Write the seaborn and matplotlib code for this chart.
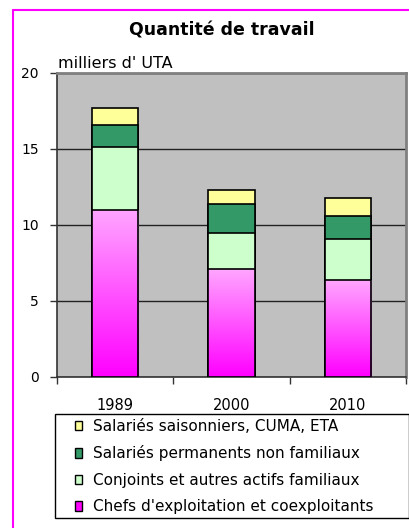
import seaborn as sns
import pandas as pd
import numpy as np
import matplotlib.pyplot as plt
from matplotlib.lines import Line2D
from matplotlib.patches import Patch, Rectangle
from matplotlib.colors import LinearSegmentedColormap

# Data (milliers d'UTA)
years = ['1989', '2000', '2010']
chefs = [11.0, 7.1, 6.35]
conjoints = [4.1, 2.35, 2.7]
permanents = [1.5, 1.9, 1.55]
saisonniers = [1.1, 0.95, 1.15]

labels = ["Salariés saisonniers, CUMA, ETA",
          "Salariés permanents non familiaux",
          "Conjoints et autres actifs familiaux",
          "Chefs d'exploitation et coexploitants"]
colors = ['#FFFF99', '#339966', '#CCFFCC', '#FF66FF']

df = pd.DataFrame({'year': years, 'chefs': chefs, 'conjoints': conjoints,
                   'permanents': permanents, 'saisonniers': saisonniers})
df['c1'] = df['chefs']
df['c2'] = df['c1'] + df['conjoints']
df['c3'] = df['c2'] + df['permanents']
df['c4'] = df['c3'] + df['saisonniers']

sns.set_style("white")
plt.rcParams['font.family'] = ['DejaVu Sans']
plt.rcParams['text.color'] = 'black'
plt.rcParams['xtick.color'] = 'black'
plt.rcParams['ytick.color'] = 'black'

fig = plt.figure(figsize=(4.1, 5.28), dpi=100)
ax = fig.add_axes([57 / 410, 151 / 528, 349 / 410, 304 / 528])
ax.set_facecolor('#C0C0C0')

# stacked bars, drawn from the tallest cumulative down
for col, c in zip(['c4', 'c3', 'c2', 'c1'], colors):
    sns.barplot(data=df, x='year', y=col, color=c, width=0.4,
                edgecolor='black', linewidth=1.2, saturation=1, ax=ax, zorder=3)

# gradient on the bottom (chefs) bars
cmap = LinearSegmentedColormap.from_list('pink', ['#FF00FF', '#FFA6FF'])
grad = np.linspace(0, 1, 256).reshape(-1, 1)
for p in ax.patches[-3:]:
    x0, y0 = p.get_x(), p.get_y()
    w, h = p.get_width(), p.get_height()
    im = ax.imshow(grad, cmap=cmap, origin='lower', aspect='auto',
                   extent=[x0, x0 + w, y0, y0 + h], zorder=3.5)
    im.set_clip_path(p)
    p.set_facecolor('none')
    p.set_zorder(4)

ax.set_xlim(-0.5, 2.5)
ax.set_ylim(0, 20)
ax.set_yticks([0, 5, 10, 15, 20])
ax.set_xlabel('')
ax.set_ylabel('')
ax.yaxis.grid(True, color='#222222', linewidth=1)
ax.set_axisbelow(True)
ax.tick_params(axis='y', direction='out', length=5, width=1, color='#333333',
               labelsize=10, pad=8, left=True)
ax.tick_params(axis='x', which='major', length=0, labelsize=10.5, pad=15)
ax.set_xticks([-0.5, 0.5, 1.5, 2.5], minor=True)
ax.tick_params(axis='x', which='minor', direction='out', length=5, width=1,
               color='#333333', bottom=True)
for s in ['left', 'bottom']:
    ax.spines[s].set_color('#333333')
    ax.spines[s].set_linewidth(1.2)
for s in ['top', 'right']:
    ax.spines[s].set_color('#808080')
    ax.spines[s].set_linewidth(2)

fig.text(222 / 410, 1 - 30 / 528, 'Quantité de travail', ha='center',
         va='center', fontsize=12.5, fontweight='bold')
fig.text(58 / 410, 1 - 64 / 528, "milliers d' UTA", ha='left', va='center',
         fontsize=11.5)

# legend box
fig.add_artist(Rectangle((55 / 410, 10 / 528), 354 / 410, 104 / 528,
                         transform=fig.transFigure, facecolor='white',
                         edgecolor='black', linewidth=1, zorder=1))
handles = [Patch(facecolor=c, edgecolor='black', linewidth=1) for c in colors]
handles[3] = Patch(facecolor='#FF00FF', edgecolor='black', linewidth=1)
leg = fig.legend(handles, labels, loc='upper left',
                 bbox_to_anchor=(75 / 410, 1 - 419 / 528),
                 fontsize=11, frameon=False, handlelength=0.45,
                 handleheight=0.55, handletextpad=0.7, labelspacing=0.75,
                 borderaxespad=0, borderpad=0)
leg.set_zorder(2)

# magenta frame
fig.add_artist(Line2D([13 / 410, 1], [1 - 10 / 528, 1 - 10 / 528],
                      color='#FF00FF', linewidth=1.5, transform=fig.transFigure))
fig.add_artist(Line2D([13 / 410, 13 / 410], [0, 1 - 10 / 528],
                      color='#FF00FF', linewidth=1.5, transform=fig.transFigure))

fig.savefig('out.png', dpi=100)
plt.close(fig)
